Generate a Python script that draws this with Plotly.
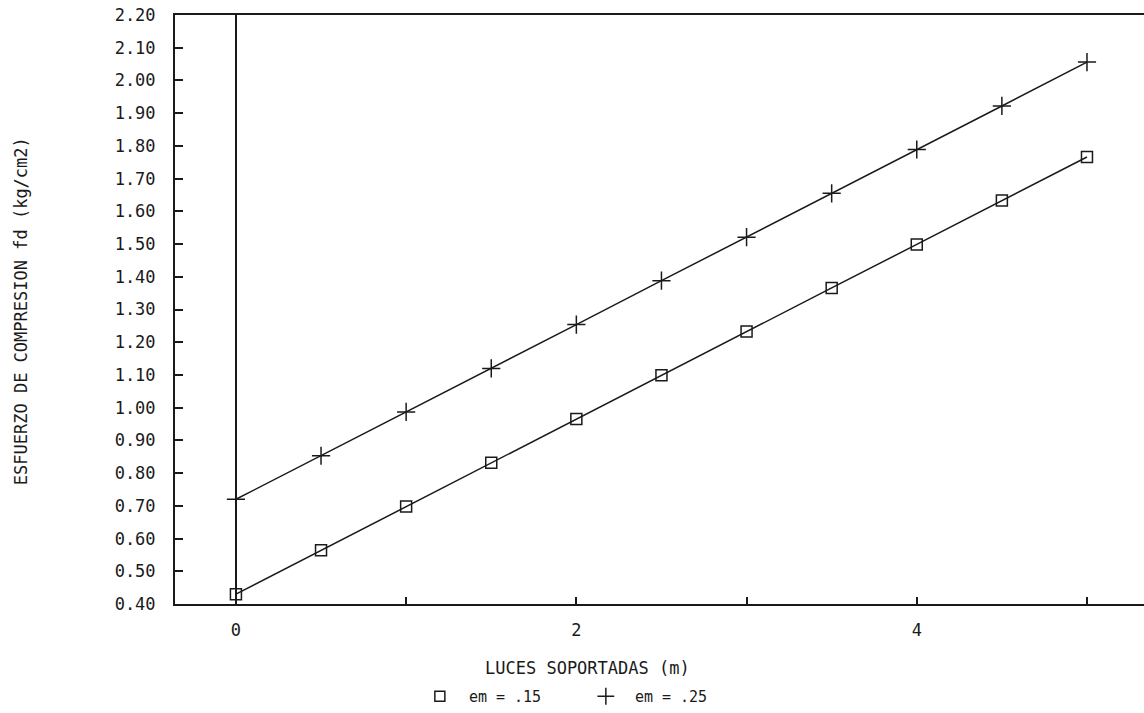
import plotly.graph_objects as go

# ---- data ----
luces = [0, 0.5, 1, 1.5, 2, 2.5, 3, 3.5, 4, 4.5, 5]
em_15 = [0.43, 0.564, 0.698, 0.832, 0.965, 1.099, 1.233, 1.366, 1.499, 1.633, 1.766]
em_25 = [0.72, 0.853, 0.987, 1.12, 1.254, 1.388, 1.521, 1.655, 1.789, 1.922, 2.056]

x_tickvals = [0, 1, 2, 3, 4, 5]
x_ticktext = ["0", "", "2", "", "4", ""]
y_tickvals = [0.40, 0.50, 0.60, 0.70, 0.80, 0.90, 1.00, 1.10, 1.20, 1.30, 1.40,
              1.50, 1.60, 1.70, 1.80, 1.90, 2.00, 2.10, 2.20]
y_ticktext = ["%.2f" % v for v in y_tickvals]

series_names = ["em = .15", "em = .25"]

FONT = "DejaVu Sans Mono"
INK = "#1a1a1a"

fig = go.Figure()

fig.add_trace(go.Scatter(
    x=luces, y=em_15, mode="lines+markers", showlegend=False,
    line=dict(color=INK, width=1.5),
    marker=dict(symbol="square-open", size=11, color=INK, line=dict(width=1.5)),
))
fig.add_trace(go.Scatter(
    x=luces, y=em_25, mode="lines+markers", showlegend=False,
    line=dict(color=INK, width=1.5),
    marker=dict(symbol="cross-thin-open", size=13, color=INK, line=dict(width=1.5, color=INK)),
))
# legend entries (markers only, as in the reference)
fig.add_trace(go.Scatter(
    x=[None], y=[None], mode="markers", name="\u00a0" + series_names[0],
    marker=dict(symbol="square-open", size=10, color=INK, line=dict(width=1.5)),
))
fig.add_trace(go.Scatter(
    x=[None], y=[None], mode="markers", name="\u00a0" + series_names[1],
    marker=dict(symbol="cross-thin-open", size=12, color=INK, line=dict(width=1.5, color=INK)),
))

fig.update_layout(
    width=1144, height=713,
    margin=dict(l=175, r=0, t=15, b=107),
    paper_bgcolor="white", plot_bgcolor="white",
    font=dict(family=FONT, color=INK, size=16),
    legend=dict(
        orientation="h", x=0.424, xanchor="center", y=-0.158, yanchor="middle",
        font=dict(size=15), itemwidth=30, entrywidth=121, tracegroupgap=0,
        bgcolor="rgba(0,0,0,0)",
    ),
    xaxis=dict(
        range=[-0.358, 5.335],
        tickvals=x_tickvals, ticktext=x_ticktext,
        ticks="inside", ticklen=7, tickwidth=1.5, tickcolor=INK,
        ticklabelstandoff=10,
        showgrid=False,
        showline=True, linecolor=INK, linewidth=2, mirror=True,
        zeroline=True, zerolinecolor=INK, zerolinewidth=1.5,
        tickfont=dict(size=17),
    ),
    yaxis=dict(
        range=[0.40, 2.20],
        tickvals=y_tickvals, ticktext=y_ticktext,
        ticks="inside", ticklen=8, tickwidth=1.5, tickcolor=INK,
        ticklabelstandoff=14,
        showgrid=False, zeroline=False,
        showline=True, linecolor=INK, linewidth=2,
        tickfont=dict(size=17),
    ),
    annotations=[
        dict(text="LUCES SOPORTADAS (m)", xref="paper", yref="paper",
             x=0.426, y=-0.108, xanchor="center", yanchor="middle",
             showarrow=False, font=dict(size=17)),
        dict(text="ESFUERZO DE COMPRESION fd (kg/cm2)", xref="paper", yref="paper",
             x=-0.159, y=0.497, xanchor="center", yanchor="middle", textangle=-90,
             showarrow=False, font=dict(size=17)),
    ],
)

fig.write_html("out.html", config={"displayModeBar": False},
               post_script="document.body.style.margin='0';")
